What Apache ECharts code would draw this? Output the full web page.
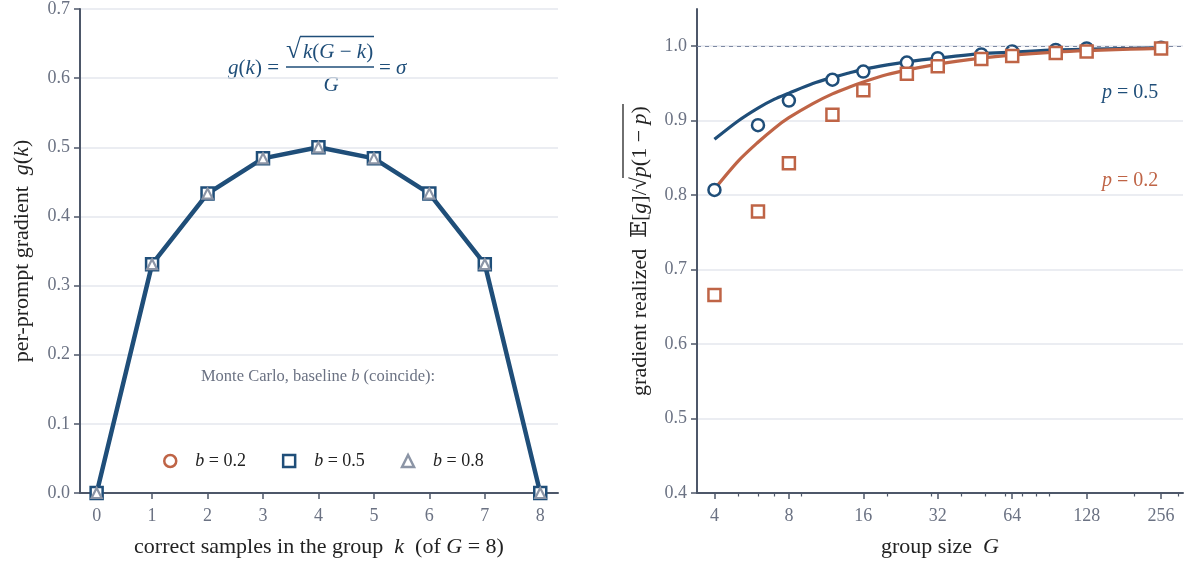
<!DOCTYPE html>
<html>
<head>
<meta charset="utf-8">
<script src="https://cdn.jsdelivr.net/npm/echarts@6/dist/echarts.min.js"></script>
<style>
  html, body { margin: 0; padding: 0; background: #fff; }
  #chart { width: 1184px; height: 562px; }
</style>
</head>
<body>
<div id="chart"></div>
<script>
// --- données ---

// panneau gauche : g(k) pour G = 8
const kValues = [0, 1, 2, 3, 4, 5, 6, 7, 8];
const gValues = [0, 0.331, 0.433, 0.484, 0.500, 0.484, 0.433, 0.331, 0];
// Monte Carlo, trois baselines (confondues)
const mcB02 = [0, 0.331, 0.433, 0.484, 0.500, 0.484, 0.433, 0.331, 0];
const mcB05 = [0, 0.331, 0.433, 0.484, 0.500, 0.484, 0.433, 0.331, 0];
const mcB08 = [0, 0.331, 0.433, 0.484, 0.500, 0.484, 0.433, 0.331, 0];
const leftYTicks = [0, 0.1, 0.2, 0.3, 0.4, 0.5, 0.6, 0.7];

// panneau droit : gradient réalisé en fonction de G
const curveG = [4, 5, 6, 7, 8, 10, 12, 14, 16, 20, 24, 32, 48, 64, 96, 128, 192, 256];
const curveP05 = [0.875, 0.900, 0.917, 0.929, 0.937, 0.950, 0.958, 0.964, 0.969, 0.975, 0.979, 0.984, 0.990, 0.992, 0.995, 0.996, 0.997, 0.998];
const curveP02 = [0.808, 0.846, 0.871, 0.890, 0.904, 0.923, 0.936, 0.945, 0.952, 0.962, 0.968, 0.976, 0.984, 0.988, 0.992, 0.994, 0.996, 0.997];
const mcG = [4, 6, 8, 12, 16, 24, 32, 48, 64, 96, 128, 256];
const mcP05 = [0.807, 0.894, 0.927, 0.955, 0.966, 0.978, 0.984, 0.989, 0.993, 0.995, 0.997, 0.998];
const mcP02 = [0.666, 0.778, 0.843, 0.908, 0.941, 0.963, 0.973, 0.983, 0.987, 0.991, 0.993, 0.997];
const rightXTicks = [4, 8, 16, 32, 64, 128, 256];
const rightXMinor = [5, 6, 7, 9, 20, 30, 40, 50, 60, 70, 80, 90, 200, 300];
const rightYTicks = [0.4, 0.5, 0.6, 0.7, 0.8, 0.9, 1.0];

const BLUE = '#1f4e79';
const ORANGE = '#bf6446';
const GREY = '#8c95a6';
const AXIS = '#4d5769';
const LABEL = '#6b7283';
const GRID = '#e4e7ee';
const FONT = "'Liberation Serif', 'DejaVu Serif', serif";
const NAME_SIZE = 22;

const charts = [];

function pairs(xs, ys) {
    return xs.map((x, i) => [x, ys[i]]);
}

// style de texte riche : n = normal, i = italique
function richText(color, size) {
    return {
        n: { color: color, fill: color, fontSize: size, fontFamily: FONT },
        i: { color: color, fill: color, fontSize: size, fontFamily: FONT, fontStyle: 'italic' },
        b: { color: color, fill: color, fontSize: size, fontFamily: "'DejaVu Serif', serif" }
    };
}

function note(x, y, text, color, size, align) {
    return {
        type: 'text', x: x, y: y,
        style: {
            text: text, align: align || 'left', verticalAlign: 'middle',
            fill: color, font: size + 'px ' + FONT, rich: richText(color, size)
        }
    };
}

function axisBase() {
    return {
        axisLine: { show: true, onZero: false, lineStyle: { color: AXIS, width: 2 } },
        axisTick: { show: true, length: 6, lineStyle: { color: AXIS, width: 1.5 } },
        axisLabel: { color: LABEL, fontSize: 18, fontFamily: FONT, margin: 10 },
        splitLine: { show: false },
        nameTextStyle: { color: '#222', fontSize: NAME_SIZE, fontFamily: FONT, rich: richText('#222', NAME_SIZE) }
    };
}

function buildOption() {
    const xLeft = Object.assign(axisBase(), {
        type: 'value', gridIndex: 0, min: -0.3, max: 8.32, interval: 1,
        name: '{n|correct samples in the group  }{i|k}{n|  (of }{i|G}{n| = 8)}',
        nameLocation: 'middle', nameGap: 43
    });
    xLeft.axisTick.customValues = kValues;
    xLeft.axisLabel.customValues = kValues;
    xLeft.axisLabel.margin = 14;

    const yLeft = Object.assign(axisBase(), {
        type: 'value', gridIndex: 0, min: 0, max: 0.7, interval: 0.1,
        name: '{n|per-prompt gradient  }{i|g}{n|(}{i|k}{n|)}',
        nameLocation: 'middle', nameGap: 47
    });
    yLeft.axisTick.customValues = leftYTicks;
    yLeft.axisLabel.customValues = leftYTicks;
    yLeft.axisLabel.formatter = v => v.toFixed(1);
    yLeft.splitLine = { show: true, lineStyle: { color: GRID, width: 1.5 } };

    const xRight = Object.assign(axisBase(), {
        type: 'log', logBase: 2, gridIndex: 1, min: 3.4, max: 314,
        name: '{n|group size  }{i|G}',
        nameLocation: 'middle', nameGap: 43
    });
    xRight.axisTick.customValues = rightXTicks;
    xRight.axisLabel.customValues = rightXTicks;
    xRight.axisLabel.formatter = v => String(Math.round(v));
    xRight.axisLabel.margin = 14;

    // axe fantôme pour les petites graduations
    const xRightMinor = {
        type: 'log', logBase: 2, gridIndex: 1, min: 3.4, max: 314, position: 'bottom',
        axisLine: { show: false, onZero: false },
        axisTick: { show: true, length: 3.5, customValues: rightXMinor, lineStyle: { color: AXIS, width: 1.2 } },
        axisLabel: { show: false },
        splitLine: { show: false }
    };

    const yRight = Object.assign(axisBase(), {
        type: 'value', gridIndex: 1, min: 0.4, max: 1.05, interval: 0.1,
        name: '{n|gradient realized  }{b|𝔼}{n|[}{i|g}{n|]/√}{i|p}{n|(1 − }{i|p}{n|)}',
        nameLocation: 'middle', nameGap: 46
    });
    yRight.axisTick.customValues = rightYTicks;
    yRight.axisLabel.customValues = rightYTicks;
    yRight.axisLabel.formatter = v => v.toFixed(1);
    yRight.splitLine = { show: true, lineStyle: { color: GRID, width: 1.5 } };

    const legendNames = ['b = 0.2', 'b = 0.5', 'b = 0.8'];

    return {
        animation: false,
        backgroundColor: '#fff',
        textStyle: { fontFamily: FONT },
        grid: [
            { left: 80, top: 9, width: 478, height: 484, outerBoundsMode: 'none' },
            { left: 697, top: 9, width: 486, height: 484, outerBoundsMode: 'none' }
        ],
        xAxis: [xLeft, xRight, xRightMinor],
        yAxis: [yLeft, yRight],
        legend: {
            data: legendNames,
            left: 158, top: 447,
            itemWidth: 12, itemHeight: 12, itemGap: 36,
            itemStyle: { borderWidth: 2.5 },
            formatter: name => '{i|b}{n| = ' + name.split('= ')[1] + '}',
            textStyle: { padding: [0, 0, 0, 14], rich: richText('#222', 18) }
        },
        graphic: [
            // formule g(k) = sqrt(k(G-k))/G = sigma
            note(279, 68, '{i|g}{n|(}{i|k}{n|) =}', BLUE, 21, 'right'),
            { type: 'line', shape: { x1: 286, y1: 67, x2: 374, y2: 67 }, style: { stroke: BLUE, lineWidth: 1.5 } },
            note(286, 51, '√', BLUE, 27),
            { type: 'line', shape: { x1: 300, y1: 36.5, x2: 374, y2: 36.5 }, style: { stroke: BLUE, lineWidth: 1.3 } },
            note(303, 52, '{i|k}{n|(}{i|G}{n| − }{i|k}{n|)}', BLUE, 21),
            note(331, 85, '{i|G}', BLUE, 21, 'center'),
            note(379, 68, '{n|= }{i|σ}', BLUE, 21),
            // note Monte Carlo
            note(318, 377, '{n|Monte Carlo, baseline }{i|b}{n| (coincide):}', LABEL, 16.5, 'center'),
            // étiquettes p
            note(1102, 93, '{i|p}{n| = 0.5}', BLUE, 20),
            note(1102, 181, '{i|p}{n| = 0.2}', ORANGE, 20),
            // barre du radical dans le titre de l'axe vertical droit
            { type: 'line', shape: { x1: 623, y1: 104, x2: 623, y2: 178 }, style: { stroke: '#222', lineWidth: 1.3 } }
        ],
        series: [
            {
                name: 'g(k)', type: 'line', xAxisIndex: 0, yAxisIndex: 0,
                data: pairs(kValues, gValues), showSymbol: false,
                lineStyle: { color: BLUE, width: 4.5 }, z: 2
            },
            {
                name: 'b = 0.2', type: 'scatter', xAxisIndex: 0, yAxisIndex: 0,
                data: pairs(kValues, mcB02), symbol: 'circle', symbolSize: 11,
                itemStyle: { color: '#fff', borderColor: ORANGE, borderWidth: 2.5, opacity: 1 }, z: 3
            },
            {
                name: 'b = 0.5', type: 'scatter', xAxisIndex: 0, yAxisIndex: 0,
                data: pairs(kValues, mcB05), symbol: 'rect', symbolSize: 12,
                itemStyle: { color: '#fff', borderColor: BLUE, borderWidth: 2.5, opacity: 1 }, z: 4
            },
            {
                name: 'b = 0.8', type: 'scatter', xAxisIndex: 0, yAxisIndex: 0,
                data: pairs(kValues, mcB08), symbol: 'triangle', symbolSize: 10,
                itemStyle: { color: '#fff', borderColor: GREY, borderWidth: 2.2, opacity: 1 }, z: 5
            },
            {
                name: 'p = 0.5 théorie', type: 'line', xAxisIndex: 1, yAxisIndex: 1,
                data: pairs(curveG, curveP05), showSymbol: false, smooth: 0.3,
                lineStyle: { color: BLUE, width: 3.2 }, z: 2,
                markLine: {
                    silent: true, symbol: ['none', 'none'], label: { show: false },
                    lineStyle: { color: '#7d89a3', width: 1.2, type: [4, 4] },
                    data: [{ yAxis: 1.0 }]
                }
            },
            {
                name: 'p = 0.2 théorie', type: 'line', xAxisIndex: 1, yAxisIndex: 1,
                data: pairs(curveG, curveP02), showSymbol: false, smooth: 0.3,
                lineStyle: { color: ORANGE, width: 3.2 }, z: 3
            },
            {
                name: 'p = 0.5 MC', type: 'scatter', xAxisIndex: 1, yAxisIndex: 1,
                data: pairs(mcG, mcP05), symbol: 'circle', symbolSize: 12,
                itemStyle: { color: '#fff', borderColor: BLUE, borderWidth: 2.5, opacity: 1 }, z: 4
            },
            {
                name: 'p = 0.2 MC', type: 'scatter', xAxisIndex: 1, yAxisIndex: 1,
                data: pairs(mcG, mcP02), symbol: 'rect', symbolSize: 12,
                itemStyle: { color: '#fff', borderColor: ORANGE, borderWidth: 2.5, opacity: 1 }, z: 5
            }
        ]
    };
}

function create(selector) {
    const dom = document.querySelector(selector);
    if (!dom) {
        console.error('Element introuvable : ' + selector);
        return null;
    }
    let myChart = echarts.getInstanceByDom(dom);
    if (myChart) {
        myChart.dispose();
    }
    myChart = echarts.init(dom, null, { renderer: 'canvas' });
    myChart.setOption(buildOption());
    charts.push(myChart);
    return myChart;
}

window.addEventListener('resize', function () {
    charts.forEach(chart => chart.resize());
});

create('#chart');
</script>
</body>
</html>
